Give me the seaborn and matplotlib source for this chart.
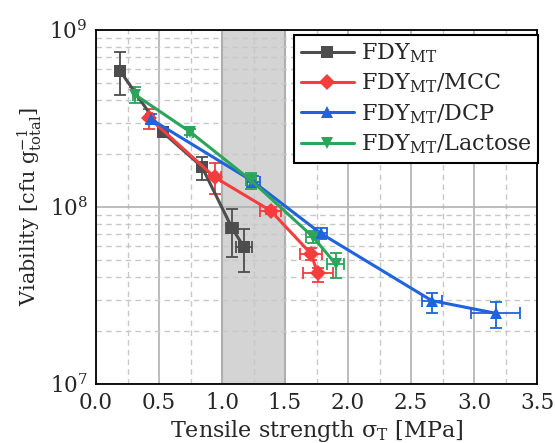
import numpy as np
import pandas as pd
import matplotlib
matplotlib.use("Agg")
import matplotlib.pyplot as plt
import seaborn as sns
from matplotlib.lines import Line2D

sns.set_theme(style="white")
plt.rcParams['font.family'] = ['DejaVu Serif']
plt.rcParams['mathtext.fontset'] = 'dejavuserif'

series = ["FDY$_\\mathrm{MT}$", "FDY$_\\mathrm{MT}$/MCC", "FDY$_\\mathrm{MT}$/DCP", "FDY$_\\mathrm{MT}$/Lactose"]

# FDY_MT
x_mt = [0.19, 0.53, 0.84, 1.08, 1.175]
y_mt = [5.89e8, 2.64e8, 1.69e8, 7.59e7, 5.94e7]
ylo_mt = [4.3e8, 2.54e8, 1.42e8, 5.24e7, 4.3e7]
yhi_mt = [7.5e8, 2.74e8, 1.92e8, 9.75e7, 7.48e7]
xe_mt = [0.01, 0.015, 0.04, 0.05, 0.06]

# FDY_MT/MCC
x_mcc = [0.423, 0.944, 1.386, 1.706, 1.76]
y_mcc = [3.18e8, 1.47e8, 9.53e7, 5.45e7, 4.22e7]
ylo_mcc = [2.77e8, 1.18e8, 9.1e7, 5.02e7, 3.79e7]
yhi_mcc = [3.57e8, 1.77e8, 1.0e8, 5.89e7, 4.51e7]
xe_mcc = [0.02, 0.05, 0.085, 0.086, 0.117]

# FDY_MT/DCP
x_dcp = [0.434, 1.249, 1.783, 2.664, 3.172]
y_dcp = [3.14e8, 1.39e8, 7.1e7, 2.96e7, 2.51e7]
ylo_dcp = [2.94e8, 1.29e8, 6.6e7, 2.53e7, 2.08e7]
yhi_dcp = [3.34e8, 1.49e8, 7.6e7, 3.28e7, 2.92e7]
xe_dcp = [0.03, 0.05, 0.05, 0.08, 0.196]

# FDY_MT/Lactose
x_lac = [0.312, 0.746, 1.228, 1.72, 1.902]
y_lac = [4.3e8, 2.66e8, 1.42e8, 6.8e7, 4.77e7]
ylo_lac = [3.88e8, 2.56e8, 1.26e8, 6.3e7, 3.96e7]
yhi_lac = [4.79e8, 2.76e8, 1.55e8, 7.3e7, 5.52e7]
xe_lac = [0.02, 0.02, 0.04, 0.05, 0.07]

colors = ["#4d4d4d", "#f53d3d", "#1f63dd", "#2ba55a"]
markers = ["s", "D", "^", "v"]

xs = [x_mt, x_mcc, x_dcp, x_lac]
ys = [y_mt, y_mcc, y_dcp, y_lac]
ylos = [ylo_mt, ylo_mcc, ylo_dcp, ylo_lac]
yhis = [yhi_mt, yhi_mcc, yhi_dcp, yhi_lac]
xes = [xe_mt, xe_mcc, xe_dcp, xe_lac]

rows = []
for name, xv, yv in zip(series, xs, ys):
    for a, b in zip(xv, yv):
        rows.append({"x": a, "y": b, "series": name})
df = pd.DataFrame(rows)

fig = plt.figure(figsize=(5.55, 4.43), dpi=100)
ax = fig.add_axes([96/555, 1-384/443, 441/555, 354/443])

ax.axvspan(1.0, 1.5, facecolor="#d4d4d4", edgecolor="#a8a8a8", linewidth=1.5, zorder=0.5)

sns.lineplot(data=df, x="x", y="y", hue="series", style="series",
             palette=dict(zip(series, colors)), markers=dict(zip(series, markers)),
             dashes=False, sort=False, linewidth=2.2, markersize=8,
             markeredgewidth=0, legend=False, ax=ax, zorder=3)

for xv, yv, lo, hi, xe, c in zip(xs, ys, ylos, yhis, xes, colors):
    yv = np.array(yv); lo = np.array(lo); hi = np.array(hi)
    ax.errorbar(xv, yv, yerr=[yv - lo, hi - yv], xerr=xe, fmt="none",
                ecolor=c, elinewidth=1.3, capsize=4, capthick=1.3, zorder=2.5)

ax.set_yscale("log")
ax.set_xlim(0, 3.5)
ax.set_ylim(1e7, 1e9)
ax.set_xticks(np.arange(0, 3.51, 0.5))
ax.set_xticks(np.arange(0.25, 3.5, 0.5), minor=True)
ax.set_xticklabels([f"{v:.1f}" for v in np.arange(0, 3.51, 0.5)])

ax.grid(True, which="major", color="#b0b0b0", linewidth=1.2, linestyle="-", zorder=0)
ax.grid(True, which="minor", color="#c8c8c8", linewidth=1.0, linestyle=(0, (4, 3)), zorder=0)
ax.set_axisbelow(True)

for s in ax.spines.values():
    s.set_color("black")
    s.set_linewidth(1.3)

ax.tick_params(axis="both", which="major", labelsize=15.5, direction="out", length=5, width=1.2, color="black", pad=1)
ax.tick_params(axis="both", which="minor", direction="out", length=3, width=1.0, color="black")
ax.tick_params(axis="y", which="minor", direction="inout", length=5)

ax.set_xlabel("Tensile strength σ$_\\mathrm{T}$ [MPa]", fontsize=16, labelpad=3)
ax.set_ylabel("Viability [cfu g$_\\mathrm{total}^{-1}$]", fontsize=15, labelpad=4)

handles = [Line2D([0], [0], color=c, marker=m, markersize=8, linewidth=2.2, markeredgewidth=0)
           for c, m in zip(colors, markers)]
leg = ax.legend(handles, series, loc="upper right", bbox_to_anchor=(1.003, 0.986),
                fontsize=16, frameon=True, fancybox=False, framealpha=1,
                edgecolor="black", handlelength=2.4, handletextpad=0.3,
                labelspacing=0.3, borderpad=0.3, borderaxespad=0)
leg.get_frame().set_linewidth(1.5)

fig.savefig("out.png", dpi=100)
